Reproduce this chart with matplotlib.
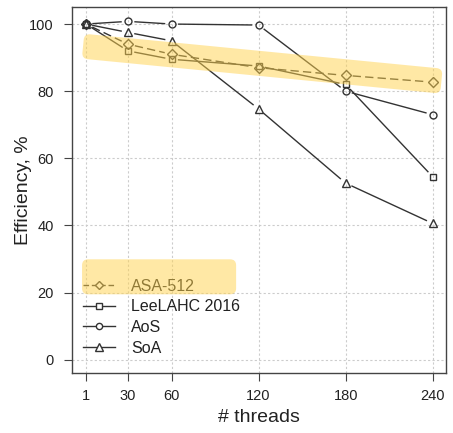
import numpy as np
import matplotlib.pyplot as plt
from matplotlib.lines import Line2D
from matplotlib.patches import FancyBboxPatch
from matplotlib.transforms import Affine2D

plt.rcParams['font.family'] = ['Liberation Sans', 'DejaVu Sans']

threads = [1, 30, 60, 120, 180, 240]
asa512 = [100, 94, 91, 87, 84.7, 82.7]
lee2016 = [100, 92, 89.5, 87.5, 82, 54.5]
aos = [100, 100.8, 100, 99.7, 80, 73]
soa = [100, 97.5, 95, 74.7, 52.6, 40.6]

series = [
    ("ASA-512", asa512, "D", (0, (6, 3)), 5.0),
    ("LeeLAHC 2016", lee2016, "s", "-", 5.0),
    ("AoS", aos, "o", "-", 5.0),
    ("SoA", soa, "^", "-", 6.0),
]

ink = "#333333"
hl_color = "#FFD24D"
hl_alpha = 0.5

fig = plt.figure(figsize=(4.53, 4.33), dpi=100)
ax = fig.add_axes([0.159, 0.139, 0.826, 0.845])
ax.set_xlim(-8.6, 249.3)
ax.set_ylim(-3.9, 105.1)

ax.set_xticks(threads)
ax.set_yticks([0, 20, 40, 60, 80, 100])
ax.grid(True, color="#cccccc", linestyle=(0, (2, 2)), linewidth=0.8)
ax.set_axisbelow(True)
for sp in ax.spines.values():
    sp.set_color("#444444")
    sp.set_linewidth(1.0)
ax.tick_params(direction="out", length=6, width=0.8, color="#444444",
               labelsize=10.5, labelcolor="#222222")
ax.tick_params(axis="x", pad=6)
ax.tick_params(axis="y", pad=7)
ax.set_xlabel("# threads", fontsize=14, color="#222222")
ax.set_ylabel("Efficiency, %", fontsize=14, color="#222222")
ax.xaxis.set_label_coords(0.5, -0.100)
ax.yaxis.set_label_coords(-0.106, 0.5)


def gapped_line(x, y, gap, **kw):
    # R-style "b" plot: line segments stop short of each point
    pts = ax.transData.transform(np.column_stack([x, y]))
    inv = ax.transData.inverted()
    for a, b in zip(pts[:-1], pts[1:]):
        d = b - a
        n = np.hypot(*d)
        if n <= 2 * gap:
            continue
        u = d / n
        seg = inv.transform(np.array([a + u * gap, b - u * gap]))
        ax.plot(seg[:, 0], seg[:, 1], **kw)


for name, vals, mk, ls, ms in series:
    gapped_line(threads, vals, 7, color=ink, linestyle=ls, linewidth=1.0)
    ax.plot(threads, vals, linestyle="none", marker=mk, markersize=ms,
            markerfacecolor="none", markeredgecolor=ink, markeredgewidth=1.0)


def highlight(p0, p1, width_px, radius=6):
    # rounded translucent band between two data points
    a = ax.transData.transform(p0)
    b = ax.transData.transform(p1)
    length = np.hypot(*(b - a))
    ang = np.arctan2(b[1] - a[1], b[0] - a[0])
    patch = FancyBboxPatch((0, -width_px / 2), length, width_px,
                           boxstyle=f"round,pad=0,rounding_size={radius}",
                           transform=Affine2D().rotate(ang).translate(*a),
                           facecolor=hl_color, edgecolor="none",
                           alpha=hl_alpha, zorder=5)
    fig.add_artist(patch)


handles = [Line2D([], [], color=ink, linestyle=ls if ls == "-" else (0, (4, 2)),
                  linewidth=1.0, marker=mk, markersize=ms - 0.5,
                  markerfacecolor="white", markeredgecolor=ink,
                  markeredgewidth=1.0)
           for name, vals, mk, ls, ms in series]
leg = ax.legend(handles, [s[0] for s in series], loc="lower left",
                bbox_to_anchor=(0.0, 0.016), frameon=False, fontsize=11.5,
                handlelength=2.0, handletextpad=1.0, labelspacing=0.36,
                borderaxespad=0.3)
for t in leg.get_texts():
    t.set_color("#222222")

highlight((-1, 93.4), (246, 83), 25)
highlight((-1.7, 24.7), (104.5, 24.7), 35)

fig.savefig("out.png", dpi=100)
